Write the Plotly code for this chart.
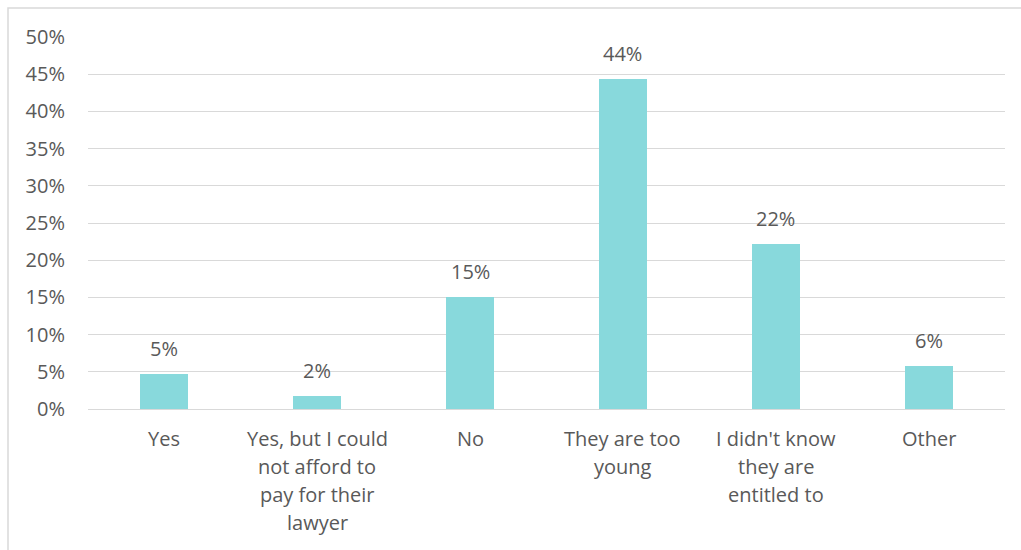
import plotly.graph_objects as go

# Survey answers and share of respondents
categories = [
    "Yes",
    "Yes, but I could<br>not afford to<br>pay for their<br>lawyer",
    "No",
    "They are too<br>young",
    "I didn't know<br>they are<br>entitled to",
    "Other",
]
shares = [0.047, 0.017, 0.150, 0.443, 0.222, 0.058]
y_ticks = [0.0, 0.05, 0.10, 0.15, 0.20, 0.25, 0.30, 0.35, 0.40, 0.45, 0.50]

TEXT = "#595959"
GRID = "#D9D9D9"
BAR = "#88D9DC"
FONT = "Open Sans"

W, H = 1021, 550
L, R, T, B = 88, 16, 37, 141

fig = go.Figure(
    go.Bar(
        x=categories,
        y=shares,
        marker=dict(color=BAR, line=dict(width=0)),
        width=0.314,
        hoverinfo="skip",
    )
)

# value labels above each bar
for cat, val in zip(categories, shares):
    fig.add_annotation(
        x=cat, y=val, text=f"{val:.0%}", showarrow=False,
        yanchor="bottom", yshift=10,
        font=dict(family=FONT, size=20, color=TEXT),
    )

# category labels under the axis, one line at a time for wider line spacing
LINE_GAP = 28
for cat in categories:
    for i, line in enumerate(cat.split("<br>")):
        fig.add_annotation(
            x=cat, y=0, yref="y", text=line, showarrow=False,
            yanchor="middle", yshift=-(29 + LINE_GAP * i),
            font=dict(family=FONT, size=20, color=TEXT),
        )

# light outer frame around the chart
pw, ph = W - L - R, H - T - B
fig.add_shape(
    type="rect", xref="paper", yref="paper",
    x0=(8 - L) / pw, x1=(W + 10 - L) / pw,
    y0=-(H + 10 - T - ph) / ph, y1=(H - B - 8) / ph,
    line=dict(color=GRID, width=1.5), fillcolor="rgba(0,0,0,0)", layer="below",
)

fig.update_layout(
    width=W, height=H,
    margin=dict(l=L, r=R, t=T, b=B, pad=0),
    paper_bgcolor="white", plot_bgcolor="white",
    font=dict(family=FONT, size=20, color=TEXT),
    showlegend=False,
    bargap=0,
    xaxis=dict(
        showgrid=False, showline=False, zeroline=False,
        ticks="", showticklabels=False,
    ),
    yaxis=dict(
        range=[0, 0.5], tickvals=y_ticks, tickformat=".0%",
        showgrid=True, gridcolor=GRID, gridwidth=1.3,
        zeroline=True, zerolinecolor=GRID, zerolinewidth=1.3,
        showline=False, ticks="", ticklabelstandoff=22,
        tickfont=dict(family=FONT, size=20, color=TEXT),
    ),
)

fig.write_html("out.html")
